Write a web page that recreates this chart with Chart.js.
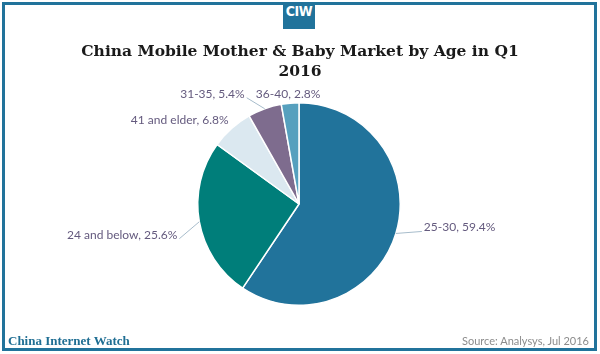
<!DOCTYPE html>
<html>
<head>
<meta charset="utf-8">
<script src="https://cdn.jsdelivr.net/npm/chart.js@4.4.1/dist/chart.umd.min.js"></script>
<style>
  html, body { margin: 0; padding: 0; background: #fff; }
  #wrap { position: relative; width: 600px; height: 354px; overflow: hidden; }
  #myChart { position: absolute; left: 0; top: 0; }
  .frame { position: absolute; left: 2px; top: 2px; width: 595px; height: 349px;
           box-sizing: border-box; border: 3px solid #21739b; }
  .logo { position: absolute; left: 283px; top: 3px; width: 32px; height: 26px;
          background: #21739b; color: #fff; text-align: center; line-height: 26px;
          font: bold 14px "DejaVu Sans Condensed", "DejaVu Sans"; letter-spacing: -0.5px; }
  .title { position: absolute; left: 0; width: 600px; top: 41px; text-align: center;
           font: bold 15.5px/20px "DejaVu Serif"; color: #1a1a1a; }
  .brand { position: absolute; left: 8px; top: 333px; font: bold 13px "Liberation Serif";
           color: #1f6e93; }
  .source { position: absolute; right: 11px; top: 334px; font: 11px Lato; color: #8c8c8c; }
</style>
</head>
<body>
<div id="wrap">
  <canvas id="myChart" width="600" height="354"></canvas>
  <div class="frame"></div>
  <div class="logo">CIW</div>
  <div class="title">China Mobile Mother &amp; Baby Market by Age in Q1<br>2016</div>
  <div class="brand">China Internet Watch</div>
  <div class="source">Source: Analysys, Jul 2016</div>
</div>
<script>
// PART DE MARCHE PAR AGE

const categories = [
    '25-30',
    '24 and below',
    '41 and elder',
    '31-35',
    '36-40'
];

const shares = [59.4, 25.6, 6.8, 5.4, 2.8];

const colors = ['#21739b', '#007e7a', '#dbe8f0', '#7e6c8e', '#56a0be'];

// placement des etiquettes (decalage depuis le bord de la part)
const labelPlace = [
    { dx: 28, dy: -6, align: 'left', line: true },
    { dx: -22, dy: 13, align: 'right', line: true },
    { dx: -3, dy: -8, align: 'right', line: false },
    { dx: -20, dy: -15, align: 'right', line: true },
    { dx: -2, dy: -9, align: 'center', line: false }
];

const sliceLabels = {
    id: 'sliceLabels',
    afterDatasetsDraw(chart) {
        const ctx = chart.ctx;
        const meta = chart.getDatasetMeta(0);
        ctx.save();
        ctx.font = '12px Lato';
        ctx.textBaseline = 'middle';
        ctx.lineWidth = 1;
        meta.data.forEach((arc, i) => {
            const p = arc.getProps(['x', 'y', 'startAngle', 'endAngle', 'outerRadius'], true);
            const mid = (p.startAngle + p.endAngle) / 2;
            const ex = p.x + Math.cos(mid) * p.outerRadius;
            const ey = p.y + Math.sin(mid) * p.outerRadius;
            const place = labelPlace[i];
            const tx = ex + place.dx;
            const ty = ey + place.dy;
            if (place.line) {
                ctx.strokeStyle = '#a7bccb';
                ctx.beginPath();
                ctx.moveTo(ex, ey);
                ctx.lineTo(place.align === 'left' ? tx - 2 : tx + 2, ty + 4);
                ctx.stroke();
            }
            ctx.fillStyle = '#645a7e';
            ctx.textAlign = place.align;
            ctx.fillText(categories[i] + ', ' + shares[i].toFixed(1) + '%', tx, ty);
        });
        ctx.restore();
    }
};

const data = {
    labels: categories,
    datasets: [{
        label: 'Share',
        data: shares,
        backgroundColor: colors,
        borderColor: '#ffffff',
        borderWidth: 1.5
    }]
};

const config = {
    type: 'pie',
    data: data,
    options: {
        responsive: false,
        animation: false,
        layout: {
            padding: { top: 102, bottom: 48, left: 150, right: 152 }
        },
        plugins: {
            legend: { display: false },
            tooltip: { enabled: false }
        }
    },
    plugins: [sliceLabels]
};

const myChart = new Chart(
    document.getElementById('myChart'),
    config
);

// FIN
</script>
</body>
</html>
